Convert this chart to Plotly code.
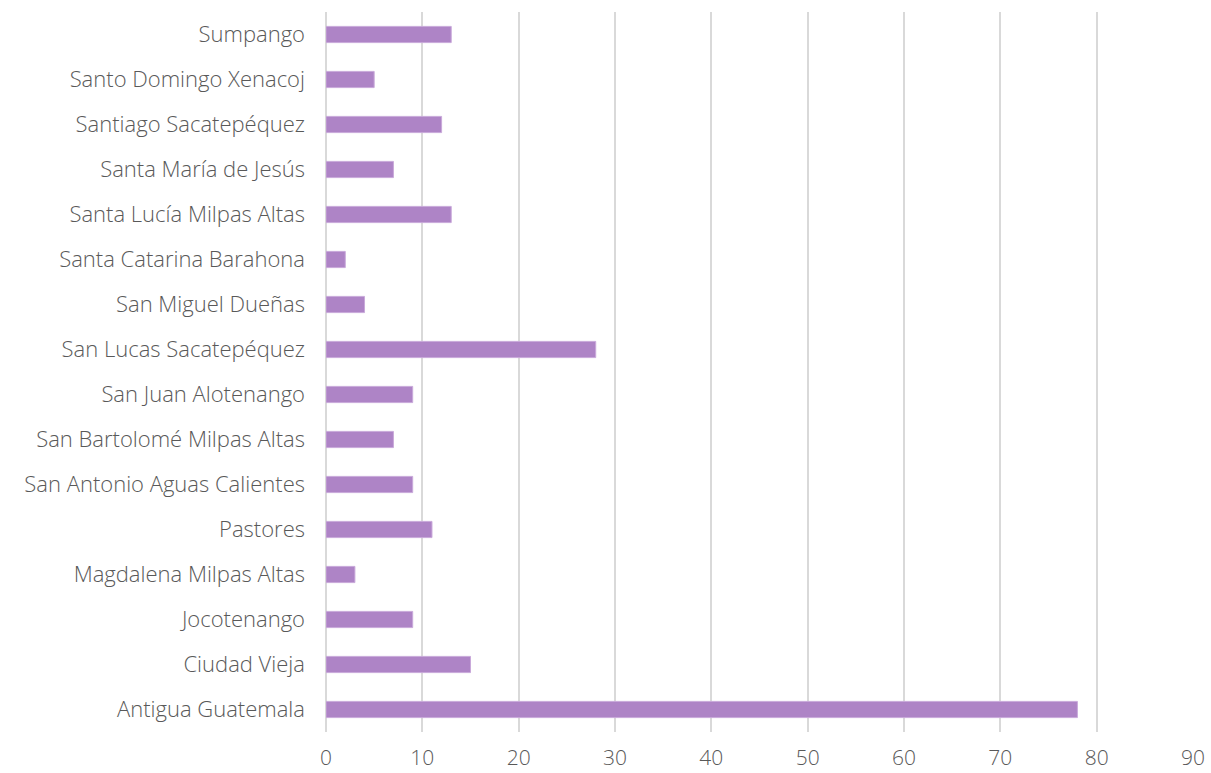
import plotly.graph_objects as go

categories = ["Antigua Guatemala", "Ciudad Vieja", "Jocotenango", "Magdalena Milpas Altas",
              "Pastores", "San Antonio Aguas Calientes", "San Bartolomé Milpas Altas",
              "San Juan Alotenango", "San Lucas Sacatepéquez", "San Miguel Dueñas",
              "Santa Catarina Barahona", "Santa Lucía Milpas Altas", "Santa María de Jesús",
              "Santiago Sacatepéquez", "Santo Domingo Xenacoj", "Sumpango"]
values = [78, 15, 9, 3, 11, 9, 7, 9, 28, 4, 2, 13, 7, 12, 5, 13]
x_ticks = [0, 10, 20, 30, 40, 50, 60, 70, 80, 90]

fig = go.Figure(go.Bar(
    y=categories, x=values, orientation="h",
    marker=dict(color="#AE84C6", line=dict(color="#C9A9DA", width=1)),
))
fig.update_layout(
    width=1211, height=773,
    margin=dict(l=326, r=18, t=12, b=41, autoexpand=False),
    plot_bgcolor="white", paper_bgcolor="white",
    bargap=0.64, showlegend=False,
    font=dict(family="Open Sans", size=22, color="#595959", weight=300),
)
fig.update_xaxes(range=[0, 90], tickvals=x_ticks, showgrid=True, gridcolor="#D9D9D9",
                 gridwidth=1.5, zeroline=True, zerolinecolor="#D9D9D9", zerolinewidth=1.5,
                 showline=False, ticks="", ticklen=0, ticklabelstandoff=11, automargin=False,
                 tickfont=dict(size=21))
fig.update_yaxes(categoryorder="array", categoryarray=categories, showgrid=False,
                 ticks="", ticklabelstandoff=20, showline=False, automargin=False)
fig.write_html("out.html", config={"displayModeBar": False},
               post_script="document.body.style.margin='0';")
